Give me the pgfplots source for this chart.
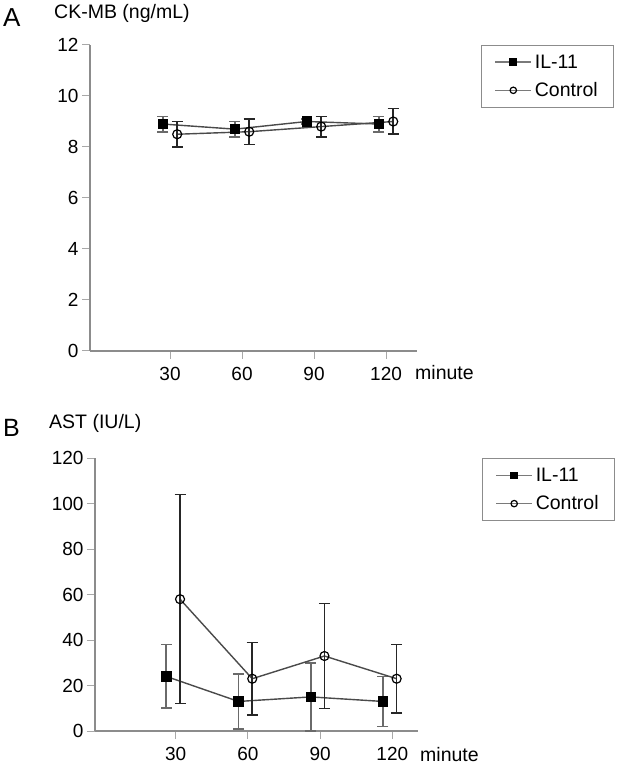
\documentclass[border=0pt]{standalone}
\usepackage{fontspec}
\setmainfont{Liberation Sans}
\usepackage{pgfplots}
\pgfplotsset{compat=1.18}

\definecolor{axisgray}{HTML}{8C8C8C}
\definecolor{tickgray}{HTML}{A8A8A8}
\definecolor{linegray}{HTML}{4A4A4A}
\definecolor{ebgray}{HTML}{6A6A6A}
\definecolor{leggray}{HTML}{7A7A7A}

\pgfplotsset{
  myaxis/.style={
    scale only axis,
    axis lines=left,
    axis line style={axisgray, line width=2bp, -},
    tick style={tickgray, line width=1bp},
    tick align=outside,
    major tick length=8bp,
    /pgf/number format/assume math mode=true,
    tick label style={font=\fontsize{19bp}{21bp}\selectfont, black},
    xticklabel style={yshift=-5bp},
    xtick={1,2,3,4},
    xticklabels={30,60,90,120},
    clip=false,
    legend cell align=left,
    legend style={draw=axisgray, line width=1.2bp, font=\fontsize{19.5bp}{21bp}\selectfont,
      inner xsep=13bp, inner ysep=6bp, row sep=7bp,
      nodes={inner sep=3bp}},
    legend image code/.code={
      \draw[mark repeat=2,mark phase=2,#1, leggray, line width=1.2bp, mark size=3.2bp] plot coordinates {(0bp,0bp) (18bp,0bp) (36bp,0bp)};
    },
  },
  ilstyle/.style={linegray, line width=1.4bp, mark=square*, mark size=4.5bp,
    mark options={black, fill=black, solid},
    error bars/.cd, y dir=both, y explicit,
    error bar style={ebgray, line width=1.7bp},
    error mark options={rotate=90, ebgray, line width=1.7bp, mark size=5.5bp}},
  ctstyle/.style={linegray, line width=1.4bp, mark=o, mark size=4.5bp,
    mark options={black, line width=1.2bp, solid},
    error bars/.cd, y dir=both, y explicit,
    error bar style={black!85, line width=1.5bp},
    error mark options={rotate=90, black!85, line width=1.5bp, mark size=5.5bp}},
}

\begin{document}
\begin{tikzpicture}
\useasboundingbox (0,0) rectangle (618bp,767bp);

% Panel A
\begin{axis}[myaxis,
  at={(90bp,416bp)}, anchor=south west,
  width=327bp, height=306bp,
  xmin=-0.111, xmax=4.43, ymin=0, ymax=12,
  ytick={0,2,4,6,8,10,12},
  legend style={at={(1.196,1)}, anchor=north west},
]
\addplot+[ilstyle] coordinates {
  (0.9,8.9) +- (0,0.3)
  (1.9,8.7) +- (0,0.3)
  (2.9,9.0) +- (0,0.1)
  (3.9,8.9) +- (0,0.3)
};
\addlegendentry{IL-11}
\addplot+[ctstyle] coordinates {
  (1.1,8.5) +- (0,0.5)
  (2.1,8.6) +- (0,0.5)
  (3.1,8.8) +- (0,0.4)
  (4.1,9.0) +- (0,0.5)
};
\addlegendentry{Control}
\end{axis}

% Panel B
\begin{axis}[myaxis,
  at={(95bp,36bp)}, anchor=south west,
  width=323.3bp, height=272.7bp,
  xmin=-0.118, xmax=4.36, ymin=0, ymax=120,
  ytick={0,20,40,60,80,100,120},
  legend style={at={(1.197,1)}, anchor=north west},
]
\addplot+[ilstyle] coordinates {
  (0.87,24) +- (0,14)
  (1.87,13) +- (0,12)
  (2.87,15) +- (0,15)
  (3.87,13) +- (0,11)
};
\addlegendentry{IL-11}
\addplot+[ctstyle] coordinates {
  (1.06,58) +- (0,46)
  (2.06,23) +- (0,16)
  (3.06,33) +- (0,23)
  (4.06,23) +- (0,15)
};
\addlegendentry{Control}
\end{axis}

\node[anchor=base west, inner sep=0, font=\fontsize{26bp}{26bp}\selectfont] at (3bp,740bp) {A};
\node[anchor=base west, inner sep=0, font=\fontsize{19.5bp}{21bp}\selectfont] at (54bp,748bp) {CK-MB (ng/mL)};
\node[anchor=base west, inner sep=0, font=\fontsize{19.5bp}{21bp}\selectfont] at (415bp,387.7bp) {minute};

\node[anchor=base west, inner sep=0, font=\fontsize{25bp}{25bp}\selectfont] at (3bp,330bp) {B};
\node[anchor=base west, inner sep=0, font=\fontsize{19.5bp}{21bp}\selectfont] at (49bp,338bp) {AST (IU/L)};
\node[anchor=base west, inner sep=0, font=\fontsize{19.5bp}{21bp}\selectfont] at (420bp,5.3bp) {minute};
\end{tikzpicture}
\end{document}
